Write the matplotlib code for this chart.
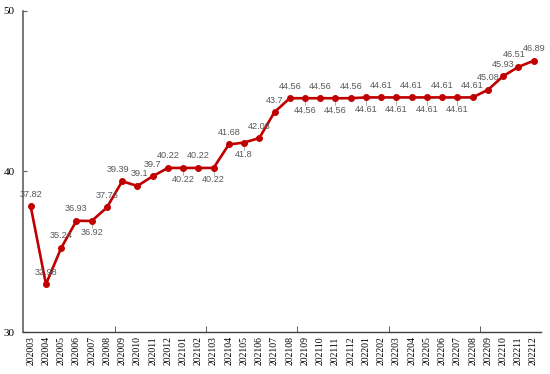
import matplotlib
matplotlib.use("Agg")
import matplotlib.pyplot as plt
import numpy as np

months = ["202003","202004","202005","202006","202007","202008","202009","202010","202011","202012",
          "202101","202102","202103","202104","202105","202106","202107","202108","202109","202110","202111","202112",
          "202201","202202","202203","202204","202205","202206","202207","202208","202209","202210","202211","202212"]
values = [37.82,32.98,35.24,36.93,36.92,37.76,39.39,39.1,39.7,40.22,
          40.22,40.22,40.22,41.68,41.8,42.08,43.7,44.56,44.56,44.56,44.56,44.56,
          44.61,44.61,44.61,44.61,44.61,44.61,44.61,44.61,45.08,45.93,46.51,46.89]
labels = ["37.82","32.98","35.24","36.93","36.92","37.76","39.39","39.1","39.7","40.22",
          "40.22","40.22","40.22","41.68","41.8","42.08","43.7","44.56","44.56","44.56","44.56","44.56",
          "44.61","44.61","44.61","44.61","44.61","44.61","44.61","44.61","45.08","45.93","46.51","46.89"]
below = {4, 10, 12, 14, 18, 20, 22, 24, 26, 28}
xshift = {6: -4, 7: 2, 32: -4, 33: 1}

fig = plt.figure(figsize=(5.5, 3.74), dpi=100)
ax = fig.add_axes([0.042, 0.112, 0.942, 0.859])

x = np.arange(len(months))
ax.plot(x, values, color="#C00000", lw=1.9, marker="o", ms=4, mfc="#C00000", mec="#C00000", zorder=3)

for i, (v, lab) in enumerate(zip(values, labels)):
    dx = xshift.get(i, 0)
    if i in below:
        ax.annotate(lab, (i, v), xytext=(dx, -12), textcoords="offset pixels",
                    ha="center", va="center", fontsize=6.6, color="#595959", family="Liberation Sans")
        ax.plot([i, i], [v - 0.15, v - 0.45], color="#A6A6A6", lw=0.6, zorder=2)
    else:
        ax.annotate(lab, (i, v), xytext=(dx, 12), textcoords="offset pixels",
                    ha="center", va="center", fontsize=6.6, color="#595959", family="Liberation Sans")

ax.set_xlim(-0.5, len(months) - 0.5)
ax.set_ylim(30, 50)
ax.set_yticks([30, 40, 50])
ax.set_yticklabels(["30", "40", "50"], family="Liberation Serif", fontsize=8)
ax.set_xticks(x)
ax.set_xticklabels(months, rotation=90, family="Liberation Serif", fontsize=7)
ax.set_xticks(np.arange(5.5, len(months) - 1, 6), minor=True)
ax.tick_params(axis="x", which="major", length=0, pad=3)
ax.tick_params(axis="x", which="minor", length=4, direction="in", color="#404040")
ax.tick_params(axis="y", length=3, direction="in", color="#606060", pad=6)

for s in ["top", "right"]:
    ax.spines[s].set_visible(False)
ax.spines["left"].set_color("#606060")
ax.spines["bottom"].set_color("#404040")
ax.spines["left"].set_linewidth(1.2)
ax.spines["bottom"].set_linewidth(1.0)

fig.savefig("out.png", dpi=100)
